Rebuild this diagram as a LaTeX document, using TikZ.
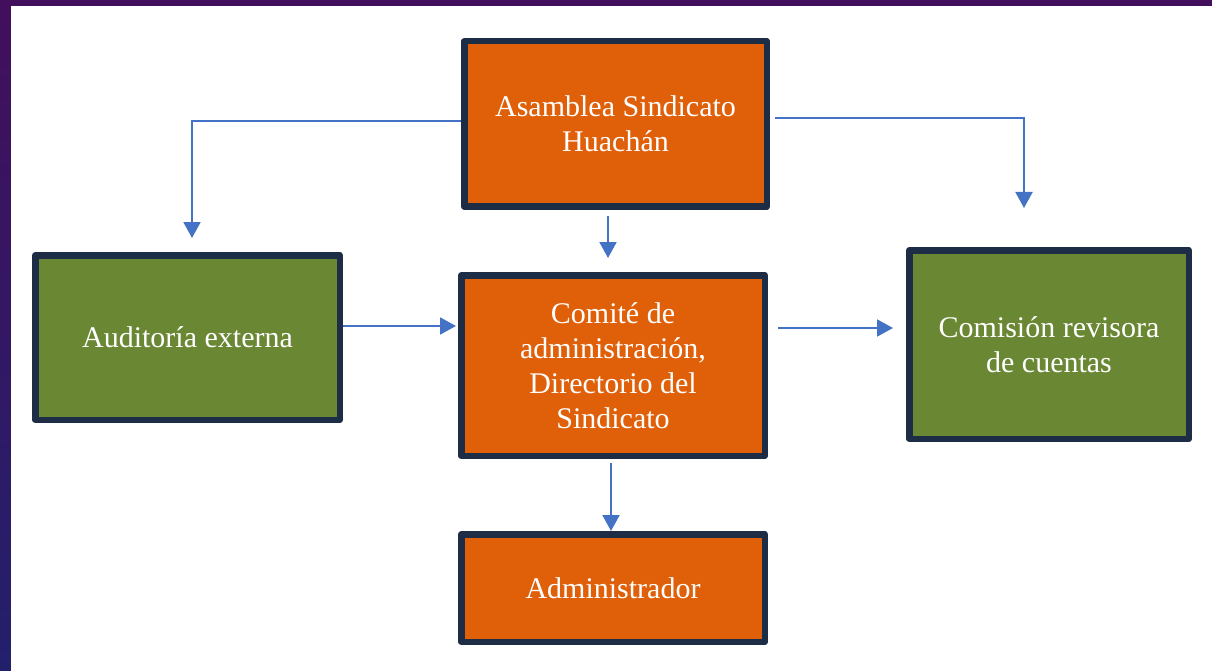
\documentclass[tikz,border=0pt]{standalone}
\usepackage{fontspec}
\setmainfont{Liberation Serif}
\usetikzlibrary{arrows.meta,calc}
\definecolor{boxorange}{HTML}{E06009}
\definecolor{boxgreen}{HTML}{6A8733}
\definecolor{boxline}{HTML}{1E2D46}
\definecolor{linkblue}{HTML}{4472C4}
\definecolor{bgtop}{HTML}{420F5C}
\definecolor{bgbottom}{HTML}{23206B}
\begin{document}
\begin{tikzpicture}[x=1pt, y=-1pt,
  unit/.style={rectangle, draw=boxline, line width=6.5pt, line join=round, text=white, align=center, inner sep=0pt, font=\fontsize{30}{35}\selectfont},
  orangeunit/.style={unit, fill=boxorange},
  greenunit/.style={unit, fill=boxgreen},
  link/.style={draw=linkblue, line width=2pt, -{Triangle[width=17pt,length=16pt]}}]
\shade[top color=bgtop, bottom color=bgbottom] (0,0) rectangle (1212,671);
\fill[white] (11,6) rectangle (1212,671);
\node[orangeunit, minimum width=302.5pt, minimum height=165.5pt] (asamblea) at (615.5,124){Asamblea Sindicato\\Huach\'an};
\node[orangeunit, minimum width=303.5pt, minimum height=180.5pt] (comite) at (613,365.5){Comit\'e de\\administraci\'on,\\Directorio del\\Sindicato};
\node[greenunit, minimum width=304.5pt, minimum height=164.5pt] (auditoria) at (187.5,337.5){Auditor\'ia externa};
\node[greenunit, minimum width=279.5pt, minimum height=188.5pt] (comision) at (1049,344.5){Comisi\'on revisora\\de cuentas};
\node[orangeunit, minimum width=303.5pt, minimum height=107.5pt] (admin) at (613,588){Administrador};
\coordinate (audout) at ([yshift=11.5pt]auditoria.east);
\coordinate (comout) at ([xshift=10pt,yshift=37.5pt]comite.east);
\draw[link] ([yshift=3pt]asamblea.west) -| ([xshift=4.5pt,yshift=14pt]auditoria.north);
\draw[link] ([xshift=5pt,yshift=6pt]asamblea.east) -| ([xshift=-25pt,yshift=39pt]comision.north);
\draw[link] ([xshift=-7.5pt,yshift=-6pt]asamblea.south) -- ([xshift=-5pt,yshift=14pt]comite.north);
\draw[link] (audout) -- ($(audout -| comite.west)+(-2,0)$);
\draw[link] (comout) -- ($(comout -| comision.west)+(-13,0)$);
\draw[link] ([xshift=-2pt,yshift=-4pt]comite.south) -- ([xshift=-2pt]admin.north);
\end{tikzpicture}
\end{document}
